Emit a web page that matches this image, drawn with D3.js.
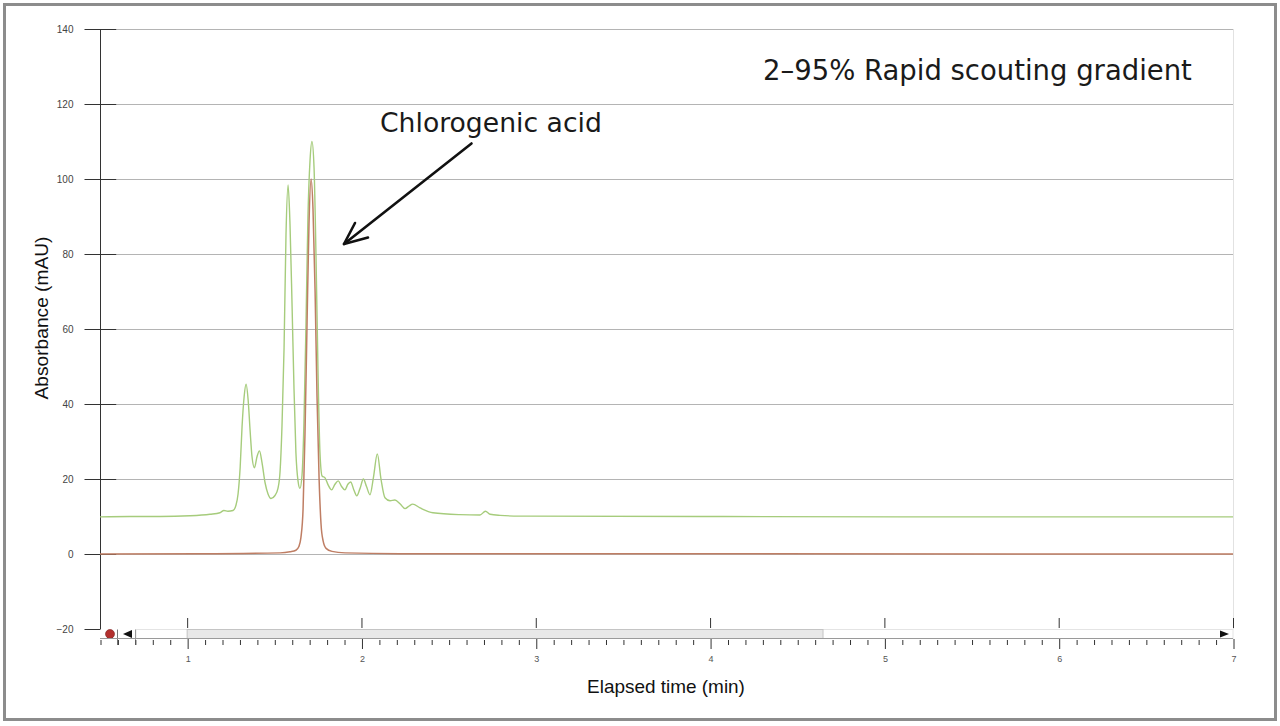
<!DOCTYPE html>
<html>
<head>
<meta charset="utf-8">
<script src="https://cdn.jsdelivr.net/npm/d3@7"></script>
<style>
  html, body { margin: 0; padding: 0; background: #fff; }
  svg { display: block; }
</style>
</head>
<body>
<svg id="chart" width="1280" height="726"></svg>
<script>
// ---------------- data ----------------
const yTicks = [140, 120, 100, 80, 60, 40, 20, 0, -20];
const xTicks = [1, 2, 3, 4, 5, 6, 7];

// green trace (2–95% scouting gradient, full sample)
const greenTime = [0.500,0.672,0.844,1.016,1.131,1.188,1.211,1.234,1.263,1.280,1.292,1.304,1.315,1.327,1.338,1.350,1.361,1.372,1.386,1.401,1.415,1.429,1.447,1.464,1.481,1.504,1.521,1.533,1.544,1.556,1.567,1.579,1.590,1.602,1.613,1.624,1.636,1.647,1.659,1.670,1.682,1.693,1.705,1.716,1.728,1.739,1.751,1.762,1.774,1.791,1.808,1.829,1.848,1.867,1.886,1.905,1.922,1.938,1.957,1.973,1.992,2.011,2.029,2.049,2.069,2.091,2.112,2.135,2.164,2.192,2.221,2.250,2.273,2.294,2.336,2.410,2.565,2.680,2.711,2.738,2.795,2.910,3.942,5.090,7.000];
const greenAbs  = [9.9,10.0,10.0,10.2,10.6,11.0,11.6,11.4,11.6,13,16,23,34,42,45.3,41,33,26,23,26,27.5,24.5,19,16,14.8,15.6,17.5,22,34,55,85,98.4,88,66,44,27,19.5,17.5,21,35,62,90,105,110,103,80,48,27,20.8,20.3,18.5,17.1,18.6,19.5,18,17.1,18.6,19.2,17,15.5,17.5,20,18,15.8,20.5,26.7,20,15,14.2,14.4,13.4,12.1,12.8,13.3,12.3,11.0,10.5,10.4,11.4,10.6,10.3,10.1,10.0,9.9,9.9];

// red trace (chlorogenic acid standard)
const redTime = [0.500,1.074,1.533,1.590,1.624,1.641,1.653,1.665,1.676,1.688,1.699,1.711,1.722,1.734,1.745,1.757,1.768,1.780,1.797,1.831,1.906,2.221,7.000];
const redAbs  = [0,0.05,0.3,0.6,1.0,2.0,4.5,12,32,62,88,100,92,70,42,20,8,3.5,1.5,0.7,0.3,0.1,0];

const scrollEnd = 4.648;   // end of the grey scroll bar (min)

// ---------------- layout ----------------
const svg = d3.select("#chart");
const x = d3.scaleLinear().domain([0.5, 7]).range([100, 1233]);
const y = d3.scaleLinear().domain([-20, 140]).range([629, 29]);

// outer frame
svg.append("rect").attr("x", 4.5).attr("y", 4.5).attr("width", 1271).attr("height", 715)
  .attr("fill", "#fff").attr("stroke", "#8c8c8c").attr("stroke-width", 3);

// gridlines
svg.append("g").selectAll("line").data(yTicks.filter(d => d >= 0)).join("line")
  .attr("x1", 117).attr("x2", x(7)).attr("y1", d => y(d) + 0.5).attr("y2", d => y(d) + 0.5)
  .attr("stroke", "#b4b4b4").attr("stroke-width", 1);

// right edge line
svg.append("line").attr("x1", x(7) + 0.5).attr("x2", x(7) + 0.5).attr("y1", y(140)).attr("y2", y(-20))
  .attr("stroke", "#e2e2e2");

// y axis
const yAxis = d3.axisLeft(y).tickValues(yTicks).tickSize(16).tickPadding(11)
  .tickFormat(d3.format("d"));
const yg = svg.append("g").attr("transform", "translate(100.5,0)").call(yAxis);
yg.select(".domain").attr("stroke", "#333").attr("d", `M0,${y(140)}V${y(-20)}`);
yg.selectAll(".tick line").attr("stroke", "#333");
yg.selectAll(".tick").filter(d => d >= 0).append("line")
  .attr("x1", 0).attr("x2", 16).attr("stroke", "#333");
yg.selectAll(".tick text").attr("font-family", "Liberation Sans, Arial, sans-serif")
  .attr("font-size", 10).attr("fill", "#444");

// traces
const line = d3.line().x(d => x(d[0])).y(d => y(d[1])).curve(d3.curveMonotoneX);
const green = d3.zip(greenTime, greenAbs);
const red = d3.zip(redTime, redAbs);
svg.append("path").datum(green).attr("d", line).attr("fill", "none")
  .attr("stroke", "#a6cc7c").attr("stroke-width", 1.4);
svg.append("path").datum(red).attr("d", line).attr("fill", "none")
  .attr("stroke", "#bf7e64").attr("stroke-width", 1.5);

// ---------------- bottom time bar ----------------
const barTop = 629.5, barBot = 638.5;
svg.append("rect").attr("x", 136).attr("y", barTop).attr("width", x(7) - 136).attr("height", barBot - barTop)
  .attr("fill", "#fff").attr("stroke", "#e4e4e4");
svg.append("rect").attr("x", x(1)).attr("y", barTop).attr("width", x(scrollEnd) - x(1)).attr("height", barBot - barTop)
  .attr("fill", "#e8e8e8").attr("stroke", "#c4c4c4");
// buttons
svg.append("line").attr("x1", 117.5).attr("x2", 117.5).attr("y1", barTop).attr("y2", 645).attr("stroke", "#777");
svg.append("line").attr("x1", 135.5).attr("x2", 135.5).attr("y1", barTop).attr("y2", 645).attr("stroke", "#999");
svg.append("circle").attr("cx", 110).attr("cy", 634).attr("r", 4.5).attr("fill", "#b3302e").attr("stroke", "#7a1f1f").attr("stroke-width", 0.6);
svg.append("path").attr("d", "M123,634L132,630L132,638Z").attr("fill", "#111");
svg.append("path").attr("d", "M1229,634L1220,630.5L1220,637.5Z").attr("fill", "#111");

// axis baseline
svg.append("line").attr("x1", 100).attr("x2", x(7)).attr("y1", barBot).attr("y2", barBot).attr("stroke", "#9a9a9a");

// minor ticks
const minorTicks = d3.range(5, 71).map(d => d / 10).filter(d => !xTicks.includes(d));
const minorAxis = d3.axisBottom(x).tickValues(minorTicks).tickSize(5).tickFormat("");
const mg = svg.append("g").attr("transform", "translate(0.5,640)").call(minorAxis);
mg.select(".domain").remove();
mg.selectAll(".tick line").attr("stroke", "#333");

// major ticks below with labels
const majorAxis = d3.axisBottom(x).tickValues(xTicks).tickSize(10).tickPadding(7).tickFormat(d3.format("d"));
const xg = svg.append("g").attr("transform", "translate(0.5,639)").call(majorAxis);
xg.select(".domain").remove();
xg.selectAll(".tick line").attr("stroke", "#333");
xg.selectAll(".tick text").attr("font-family", "Liberation Sans, Arial, sans-serif")
  .attr("font-size", 9).attr("fill", "#555");
// major ticks above the bar
svg.append("g").selectAll("line").data(xTicks).join("line")
  .attr("x1", d => x(d) + 0.5).attr("x2", d => x(d) + 0.5).attr("y1", 618).attr("y2", 628)
  .attr("stroke", "#333");

// ---------------- texts ----------------
function fitText(sel, target) {
  const base = +sel.attr("font-size");
  const w = sel.node().getComputedTextLength();
  sel.attr("font-size", base * target / w);
}

const xl = svg.append("text").attr("x", 666).attr("y", 693).attr("text-anchor", "middle")
  .attr("font-family", "Liberation Sans, Arial, sans-serif").attr("font-size", 17).attr("fill", "#111")
  .text("Elapsed time (min)");
fitText(xl, 158);

const yl = svg.append("text").attr("transform", "translate(48,318) rotate(-90)").attr("text-anchor", "middle")
  .attr("font-family", "Liberation Sans, Arial, sans-serif").attr("font-size", 17).attr("fill", "#111")
  .text("Absorbance (mAU)");
fitText(yl, 163);

const title = svg.append("text").attr("x", 763).attr("y", 80)
  .attr("font-family", "DejaVu Sans, Verdana, sans-serif").attr("font-size", 24).attr("fill", "#1a1a1a")
  .text("2–95% Rapid scouting gradient");
fitText(title, 429);

const ann = svg.append("text").attr("x", 380).attr("y", 132)
  .attr("font-family", "DejaVu Sans, Verdana, sans-serif").attr("font-size", 24).attr("fill", "#1a1a1a")
  .text("Chlorogenic acid");
fitText(ann, 222);

// arrow
svg.append("path").attr("d", "M471.5,143.5L344,244").attr("stroke", "#111").attr("stroke-width", 2.6)
  .attr("fill", "none").attr("stroke-linecap", "round");
svg.append("path").attr("d", "M355,223L344,244L368,237.5").attr("stroke", "#111").attr("stroke-width", 2.6)
  .attr("fill", "none").attr("stroke-linecap", "round").attr("stroke-linejoin", "round");
</script>
</body>
</html>
